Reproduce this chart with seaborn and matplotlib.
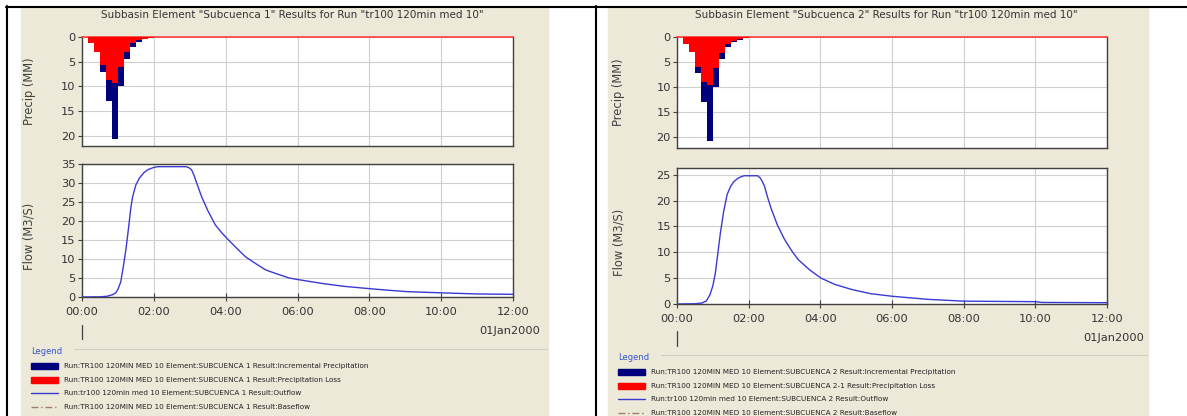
#!/usr/bin/env python3
"""
plot.py
-----------------------------------
HEC-HMS style subbasin results (Subcuenca 1 / Subcuenca 2):
hyetograph on top, outflow hydrograph below, legend underneath.
"""

import numpy as np
import pandas as pd
import matplotlib
matplotlib.use("Agg")
import matplotlib.pyplot as plt
from matplotlib.patches import Rectangle
from matplotlib.lines import Line2D
import seaborn as sns

# ---- data ----
# precipitation blocks (start minute of each 10-min block)
precip_min = [0, 10, 20, 30, 40, 50, 60, 70, 80, 90, 100, 110]
precip_inc = [0.0, 1.3, 3.0, 7.1, 13.0, 20.7, 10.0, 4.4, 2.0, 1.0, 0.5, 0.2]
loss_sub1 = [0.0, 1.3, 3.0, 5.7, 8.8, 9.3, 6.0, 3.0, 1.3, 0.7, 0.35, 0.15]
loss_sub2 = [0.0, 1.3, 3.0, 5.9, 8.9, 9.6, 6.2, 3.1, 1.4, 0.7, 0.35, 0.15]

# outflow (hours after 00:00, m3/s)
flow1_h = [0.0, 0.5, 0.7, 0.85, 0.94, 1.0, 1.08, 1.15, 1.22, 1.3, 1.36, 1.41, 1.5,
           1.6, 1.72, 1.83, 2.0, 2.11, 2.5, 2.9, 2.98, 3.05, 3.12, 3.2, 3.33, 3.5,
           3.71, 3.9, 4.08, 4.3, 4.55, 4.8, 5.12, 5.45, 5.77, 6.0, 6.4, 6.73, 7.3,
           8.0, 8.5, 9.07, 10.0, 11.0, 12.0]
flow1_q = [0.0, 0.05, 0.2, 0.6, 1.1, 2.0, 4.0, 8.0, 12.3, 18.5, 23.5, 26.4, 29.5,
           31.3, 32.7, 33.5, 34.1, 34.3, 34.3, 34.3, 34.0, 33.5, 32.0, 29.8, 26.4, 22.8,
           19.0, 16.8, 15.0, 12.9, 10.6, 9.0, 7.1, 6.0, 5.0, 4.6, 4.0, 3.5, 2.8,
           2.2, 1.8, 1.4, 1.1, 0.8, 0.7]

flow2_h = [0.0, 0.5, 0.7, 0.82, 0.92, 1.0, 1.07, 1.14, 1.21, 1.3, 1.4, 1.5, 1.59,
           1.72, 1.87, 2.25, 2.32, 2.38, 2.44, 2.53, 2.63, 2.8, 3.0, 3.2, 3.38, 3.7,
           4.02, 4.4, 4.88, 5.4, 6.0, 7.0, 8.0, 9.0, 10.0, 10.2, 12.0]
flow2_q = [0.0, 0.05, 0.2, 0.6, 1.8, 3.5, 6.0, 9.8, 13.7, 17.8, 21.2, 22.8, 23.7,
           24.4, 24.8, 24.8, 24.4, 23.7, 22.8, 20.6, 18.4, 15.3, 12.5, 10.3, 8.6, 6.6,
           5.0, 3.8, 2.8, 2.0, 1.5, 0.9, 0.55, 0.5, 0.45, 0.3, 0.25]

time_ticks = [0, 2, 4, 6, 8, 10, 12]
time_labels = ["00:00", "02:00", "04:00", "06:00", "08:00", "10:00", "12:00"]

titles = ['Subbasin Element "Subcuenca 1" Results for Run "tr100 120min med 10"',
          'Subbasin Element "Subcuenca 2" Results for Run "tr100 120min med 10"']
legend_sub1 = ["Run:TR100 120MIN MED 10 Element:SUBCUENCA 1 Result:Incremental Precipitation",
               "Run:TR100 120MIN MED 10 Element:SUBCUENCA 1 Result:Precipitation Loss",
               "Run:tr100 120min med 10 Element:SUBCUENCA 1 Result:Outflow",
               "Run:TR100 120MIN MED 10 Element:SUBCUENCA 1 Result:Baseflow"]
legend_sub2 = ["Run:TR100 120MIN MED 10 Element:SUBCUENCA 2 Result:Incremental Precipitation",
               "Run:TR100 120MIN MED 10 Element:SUBCUENCA 2-1 Result:Precipitation Loss",
               "Run:tr100 120min med 10 Element:SUBCUENCA 2 Result:Outflow",
               "Run:TR100 120MIN MED 10 Element:SUBCUENCA 2 Result:Baseflow"]

# ---- styling ----
NAVY = "#00007c"
RED = "#ff0000"
FLOW = "#3a3ad2"
BASE = "#a07e6e"
BEIGE = "#ece9d8"
GRID = "#cfcfcf"
SPINE = "#404040"
TXT = "#333333"

sns.set_theme(style="white")
plt.rcParams["font.family"] = ["DejaVu Sans"]

W, H = 1187, 416
fig = plt.figure(figsize=(W / 100, H / 100), dpi=100, facecolor="white")


def fx(x):
    return x / W


def fy(y):
    return 1 - y / H


def box(x0, y0, x1, y1):
    return [fx(x0), fy(y1), (x1 - x0) / W, (y1 - y0) / H]


def style_axes(ax, yticks, ylim, show_x):
    ax.set_facecolor("white")
    ax.set_xlim(0, 12)
    ax.set_ylim(*ylim)
    ax.set_yticks(yticks)
    ax.set_xticks(time_ticks)
    ax.grid(True, color=GRID, lw=0.8)
    for s in ax.spines.values():
        s.set_color(SPINE)
        s.set_linewidth(1.0)
    ax.tick_params(axis="y", direction="out", length=3, width=0.8, color=SPINE,
                   labelsize=8.2, labelcolor=TXT, pad=1.5, left=True)
    if show_x:
        ax.set_xticklabels(time_labels)
        ax.tick_params(axis="x", direction="inout", length=6, width=0.8, color=SPINE,
                       labelsize=8.2, labelcolor=TXT, pad=4, bottom=True)
    else:
        ax.tick_params(axis="x", length=0, labelbottom=False)
    ax.set_xlabel("")
    ax.set_ylabel("")


def panel(x_bg0, x_bg1, pre_box, flow_box, loss, fh, fq, flow_ylim, flow_ticks,
          title, title_x, ylab_x, labels, date_xy, mark_x, mark_y, leg_y):
    # beige screenshot background
    fig.patches.append(Rectangle((fx(x_bg0), fy(416)), (x_bg1 - x_bg0) / W, (416 - 8) / H,
                                 transform=fig.transFigure, color=BEIGE, zorder=-5))
    fig.text(fx(title_x), fy(15), title, ha="center", va="center", size=7.5, color=TXT)

    # hyetograph
    ax1 = fig.add_axes(box(*pre_box))
    edges = [m / 60 for m in precip_min] + [(precip_min[-1] + 10) / 60]
    mids = [(m + 5) / 60 for m in precip_min]
    dfp = pd.DataFrame({"t": mids, "inc": precip_inc, "loss": loss})
    sns.histplot(data=dfp, x="t", weights="inc", bins=edges, ax=ax1, color=NAVY,
                 alpha=1, linewidth=0, zorder=3)
    sns.histplot(data=dfp, x="t", weights="loss", bins=edges, ax=ax1, color=RED,
                 alpha=1, linewidth=0, zorder=4)
    style_axes(ax1, [0, 5, 10, 15, 20], (22.1, 0), False)
    ax1.spines["top"].set_color("#ff3b3b")
    ax1.spines["top"].set_linewidth(1.2)
    fig.text(fx(ylab_x), fy((pre_box[1] + pre_box[3]) / 2), "Precip (MM)", rotation=90,
             ha="center", va="center", size=8.3, color=SPINE)

    # hydrograph
    ax2 = fig.add_axes(box(*flow_box))
    dff = pd.DataFrame({"t": fh, "q": fq})
    sns.lineplot(data=dff, x="t", y="q", ax=ax2, color=FLOW, lw=1.0, zorder=3)
    style_axes(ax2, flow_ticks, flow_ylim, True)
    fig.text(fx(ylab_x), fy((flow_box[1] + flow_box[3]) / 2 + 6), "Flow (M3/S)", rotation=90,
             ha="center", va="center", size=8.3, color=SPINE)

    fig.text(fx(date_xy[0]), fy(date_xy[1]), "01Jan2000", ha="right", va="center",
             size=8.2, color=TXT)
    fig.lines.append(Line2D([fx(mark_x), fx(mark_x)], [fy(mark_y[0]), fy(mark_y[1])],
                            transform=fig.transFigure, color=SPINE, lw=0.9))

    # legend block
    lx = x_bg0 + 10
    fig.text(fx(lx), fy(leg_y), "Legend", ha="left", va="center", size=6, color="#3355cc")
    fig.lines.append(Line2D([fx(lx + 43), fx(x_bg1 - 1)], [fy(leg_y - 2), fy(leg_y - 2)],
                            transform=fig.transFigure, color="#d2cec0", lw=0.8))
    rows = [leg_y + 15 + 13.6 * i for i in range(4)]
    for i, (lab, yy) in enumerate(zip(labels, rows)):
        if i < 2:
            fig.patches.append(Rectangle((fx(lx), fy(yy + 3)), 27 / W, 6 / H,
                                         transform=fig.transFigure,
                                         color=NAVY if i == 0 else RED, zorder=2))
        else:
            fig.lines.append(Line2D([fx(lx), fx(lx + 27)], [fy(yy), fy(yy)],
                                    transform=fig.transFigure,
                                    color=FLOW if i == 2 else BASE, lw=1.0,
                                    ls="-" if i == 2 else (0, (5, 2, 1, 2))))
        fig.text(fx(lx + 33), fy(yy), lab, ha="left", va="center", size=5.2, color="#222222")


panel(21, 548, (82, 37, 513, 146), (82, 164, 513, 297), loss_sub1, flow1_h, flow1_q,
      (0, 35), [0, 5, 10, 15, 20, 25, 30, 35], titles[0], 292, 29, legend_sub1,
      (540, 331), 82, (325, 339), 351)
panel(608, 1148, (677, 37, 1107, 148), (677, 168, 1107, 304), loss_sub2, flow2_h, flow2_q,
      (0, 26.3), [0, 5, 10, 15, 20, 25], titles[1], 886, 619, legend_sub2,
      (1144, 338), 677, (331, 346), 357)

# table borders around the two screenshots
for xs, ys in [([6, 1187], [6.5, 6.5]), ([7, 7], [6, 416]), ([596, 596], [6, 416])]:
    fig.lines.append(Line2D([fx(v) for v in xs], [fy(v) for v in ys],
                            transform=fig.transFigure, color="black", lw=1.5))

fig.savefig("out.png", dpi=100, facecolor="white")
plt.close(fig)
